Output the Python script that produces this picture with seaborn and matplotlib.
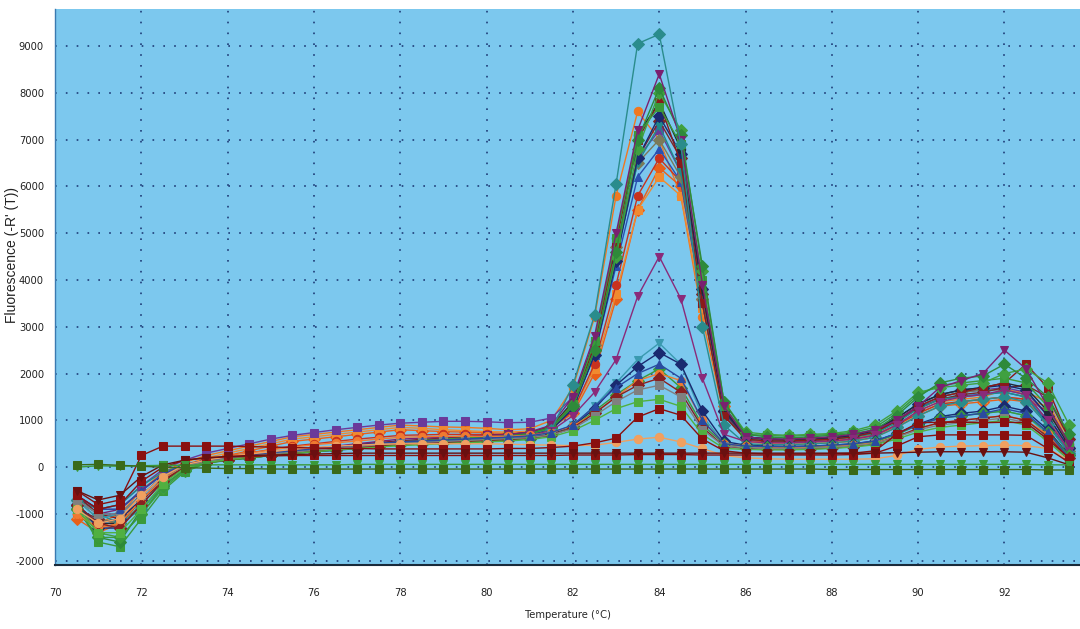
import numpy as np
import pandas as pd
import matplotlib
matplotlib.use("Agg")
import matplotlib.pyplot as plt
import seaborn as sns
from matplotlib.ticker import MultipleLocator

sns.set_style("white")
plt.rcParams['font.family'] = ['Liberation Sans Narrow', 'DejaVu Sans']
plt.rcParams['font.stretch'] = 'condensed'
plt.rcParams['axes.unicode_minus'] = False

# Temperature points (°C)
temps = [70.5 + 0.5 * k for k in range(47)]

# ---- High-peak group (main product, peak ~84 °C) ----
h01 = [-700,-1000,-900,-500,-150,50,150,200,250,300,350,400,450,500,550,600,620,640,660,680,700,750,900,1500,2800,5000,7200,8400,7000,3900,1300,650,600,600,620,650,700,800,1000,1300,1700,1850,2000,2500,2100,1300,500]
h02 = [-900,-1500,-1600,-900,-400,-50,100,150,200,250,300,350,380,420,460,500,530,560,600,640,680,720,850,1300,2500,4600,7000,8100,7100,4300,1400,700,650,620,650,680,720,800,1100,1500,1800,1900,1950,2200,1900,1500,700]
h03 = [-600,-1000,-1100,-700,-300,0,120,180,230,280,330,380,430,480,520,560,590,620,650,680,700,740,880,1350,2600,4800,7000,7800,6500,3500,1100,600,560,560,580,600,650,750,1000,1300,1500,1600,1700,1800,2200,1700,600]
h04 = [-1000,-1200,-1000,-500,-100,100,250,350,450,550,650,700,750,800,850,900,880,860,850,830,800,820,1000,1700,3200,5800,7600,7000,5800,3200,1100,600,550,550,550,580,620,700,900,1200,1400,1450,1500,1650,1600,1400,500]
h05 = [-800,-1300,-1300,-800,-300,0,100,150,200,250,300,330,360,400,450,500,520,550,580,600,640,680,800,1250,2400,4400,6600,7500,6700,3800,1200,650,600,580,600,620,680,780,1050,1350,1550,1650,1700,1750,1650,1100,400]
h06 = [-700,-900,-800,-400,-100,50,150,200,250,300,350,400,420,450,480,520,550,580,600,620,650,700,850,1300,2500,4500,6500,7300,6300,3500,1100,600,560,560,580,600,640,720,950,1250,1450,1500,1550,1600,1500,900,300]
h07 = [-1100,-1400,-1200,-700,-250,0,150,250,350,450,550,600,650,700,750,800,780,760,750,740,720,750,850,1150,2000,3600,5500,6400,6000,3600,1300,600,500,480,500,520,560,640,850,1100,1300,1350,1400,1450,1400,1000,400]
h08 = [-800,-1600,-1700,-1100,-500,-100,80,150,200,250,300,350,400,450,500,540,570,600,630,650,680,720,850,1350,2700,4900,7100,7700,6900,4000,1300,700,680,660,680,700,750,850,1150,1550,1750,1800,1850,1900,1800,1300,500]
h09 = [-900,-1100,-1000,-600,-200,50,150,200,250,300,350,400,440,480,520,560,580,600,620,650,680,720,850,1300,2500,4500,6600,7400,6600,3700,1200,600,560,550,560,600,650,740,980,1250,1450,1550,1600,1700,1750,1500,600]
h10 = [-1000,-1300,-1100,-600,-200,50,200,300,400,500,600,650,700,750,800,850,830,800,780,760,750,770,870,1200,2100,3700,5500,6200,5800,3400,1200,550,500,480,500,520,560,640,880,1150,1350,1400,1450,1500,1450,1300,650]
h11 = [-700,-1100,-1200,-800,-300,0,100,170,220,270,320,370,410,450,490,530,560,590,620,650,690,730,860,1350,2600,4700,6500,7000,6200,3600,1200,650,600,580,600,630,680,780,1000,1300,1500,1600,1650,1650,1550,1000,350]
h12 = [-900,-1200,-1200,-700,-250,20,130,190,240,290,340,390,430,470,510,550,580,610,640,670,700,740,870,1400,2700,4900,7100,7800,6800,3800,1250,650,600,590,610,640,690,800,1050,1350,1550,1650,1700,1800,1700,1200,450]
h13 = [-800,-1400,-1500,-1000,-450,-80,90,160,210,260,310,360,400,440,480,520,550,580,610,640,670,710,840,1300,2500,4500,6800,8000,7200,4200,1400,750,700,680,700,720,780,900,1200,1600,1700,1750,1800,2000,2100,1800,900]
h14 = [-1000,-1300,-1200,-700,-250,30,150,230,300,380,450,500,550,600,640,680,690,700,700,700,700,730,830,1200,2200,3900,5800,6600,6100,3700,1300,600,540,520,540,560,600,680,900,1150,1350,1400,1450,1500,1450,1200,500]
h15 = [-600,-1000,-1000,-600,-200,40,140,200,250,300,350,390,430,470,510,550,570,590,610,630,660,700,820,1250,2400,4300,6200,6800,6100,3500,1150,620,580,570,590,620,670,760,1000,1280,1450,1520,1560,1600,1500,950,300]
h16 = [-600,-900,-800,-400,-50,150,300,400,500,600,680,740,800,850,900,940,960,980,980,970,950,960,1050,1500,2700,4700,6600,7200,6300,3500,1200,650,600,590,600,620,670,760,1000,1300,1500,1600,1650,1700,1600,1100,400]
teal_top = [-700,-1000,-1200,-900,-400,-50,100,170,220,260,300,340,380,420,460,500,520,540,560,580,600,650,800,1750,3250,6050,9050,9250,6900,3000,900,500,480,480,500,520,560,640,850,1100,1300,1400,1450,1500,1400,900,300]
purple_mid = [-600,-900,-900,-500,-150,50,150,200,250,300,340,380,420,460,500,540,560,580,600,620,640,680,780,1100,1600,2300,3650,4500,3600,1900,700,550,520,520,540,560,600,680,900,1200,1400,1500,1550,1650,1550,1000,350]

# ---- Medium-peak group (peak ~1500-2600) ----
m01 = [-700,-1100,-1000,-600,-200,30,130,190,240,290,330,370,410,450,490,520,540,560,580,600,620,650,720,900,1300,1800,2300,2650,2200,1100,500,450,430,430,440,460,490,550,700,900,1050,1100,1150,1200,1100,700,200]
m02 = [-800,-1200,-1100,-700,-250,0,110,170,220,270,310,350,390,430,470,500,520,540,560,580,600,630,700,880,1250,1750,2150,2450,2200,1200,550,470,450,440,450,470,500,560,720,920,1080,1150,1200,1300,1200,800,250]
m03 = [-900,-1500,-1500,-1000,-400,-60,90,150,200,250,290,330,370,410,450,480,500,520,540,560,580,610,680,850,1200,1550,1850,2100,1700,900,500,450,430,420,430,450,480,540,700,900,1050,1100,1150,1200,1100,750,250]
m04 = [-1000,-1300,-1200,-700,-250,30,150,230,300,370,430,480,520,560,600,640,650,660,660,660,660,680,740,880,1150,1500,1850,2000,1850,1000,500,450,420,410,420,440,470,520,650,820,950,1000,1050,1100,1000,700,200]
m05 = [-800,-1200,-1300,-800,-300,0,100,160,210,260,300,340,380,420,460,490,510,530,550,570,590,620,690,840,1150,1500,1750,1900,1600,850,450,400,380,380,390,410,440,500,650,830,950,1000,1050,1100,1000,650,200]
m06 = [-700,-1000,-1000,-600,-200,20,120,180,230,280,320,360,400,440,480,510,530,550,570,590,610,630,690,820,1100,1400,1650,1750,1500,800,450,420,400,400,410,430,460,510,640,800,900,950,1000,1050,950,600,150]
m07 = [-900,-1400,-1400,-900,-350,-20,100,160,210,250,290,330,370,400,430,460,480,500,520,540,560,590,650,780,1000,1250,1400,1450,1300,700,400,380,370,370,380,400,430,480,600,750,850,900,950,1000,900,550,150]
m08 = [-600,-900,-900,-500,-150,50,150,210,260,310,350,390,430,470,510,540,560,580,600,620,640,670,740,900,1300,1700,2000,2200,1900,1000,500,450,440,440,450,470,500,560,720,900,1050,1100,1150,1250,1150,750,200]

# ---- Low / flat group ----
l01 = [-500,-800,-700,250,450,450,450,450,440,430,420,410,400,400,390,390,390,390,390,390,400,400,420,450,520,620,1070,1250,1110,600,350,300,280,280,280,290,300,350,700,950,960,960,950,960,950,600,200]
l02 = [-600,-900,-800,-300,0,150,200,220,230,240,250,250,250,250,250,250,250,250,250,250,250,250,250,260,260,260,270,270,270,260,260,260,260,260,260,260,270,300,450,650,690,690,690,690,680,400,100]
l03 = [-500,-700,-600,-200,50,150,200,230,250,260,270,280,290,300,300,300,300,300,300,300,300,300,300,300,300,300,300,300,300,300,300,300,300,300,300,300,300,300,310,320,330,330,330,330,320,200,50]
l04 = [-900,-1200,-1100,-600,-200,50,150,220,280,330,380,420,450,470,490,500,500,500,500,500,490,480,470,460,470,530,600,640,540,400,250,200,180,170,170,170,170,180,250,380,430,450,460,470,460,400,150]
l05 = [0,30,20,30,40,40,50,50,50,50,50,50,50,60,60,60,60,60,60,60,60,60,60,60,60,60,60,60,60,60,60,60,60,60,60,60,60,60,60,60,60,60,60,60,60,50,50]
l06 = [50,60,40,20,0,-10,-20,-30,-30,-40,-40,-40,-40,-40,-40,-40,-40,-40,-40,-40,-40,-40,-40,-40,-40,-40,-40,-40,-40,-40,-40,-40,-40,-40,-40,-50,-50,-50,-50,-50,-50,-50,-50,-50,-50,-60,-60]

series = [
    (h04, '#f07820', 'o'), (h07, '#e8601a', 'D'), (h10, '#f08a30', 's'), (h14, '#c8321e', 'o'),
    (h16, '#6a3a9a', 's'), (h15, '#2a50b0', '^'), (h11, '#7a7a5a', 'D'), (h09, '#7a2828', 'D'),
    (h06, '#1e8a8a', 'v'), (h05, '#1a2a70', 'D'), (h12, '#202838', 'o'), (h03, '#8a1a1a', 's'),
    (h08, '#3a9a3a', 's'), (h13, '#40a040', 'D'), (h02, '#2e8a3a', 'D'), (h01, '#7a2070', 'v'),
    (teal_top, '#2a8c8c', 'D'), (purple_mid, '#8a2a7a', 'v'),
    (m01, '#3a9ab0', 'v'), (m02, '#1a2a70', 'D'), (m03, '#3a9a3a', 'D'), (m04, '#f07a30', 'o'),
    (m05, '#8a2020', 'D'), (m06, '#808080', 's'), (m07, '#50b040', 's'), (m08, '#2a4aa0', '^'),
    (l04, '#f0a060', 'o'), (l01, '#8a1010', 's'), (l02, '#8a1010', 's'), (l03, '#6a1010', 'v'),
    (l05, '#3a9a3a', 'v'), (l06, '#3a6a1a', 's'),
]

fig = plt.figure(figsize=(10.8, 6.29), dpi=100)
ax = fig.add_axes([0.051, 0.101, 0.949, 0.884])
ax.set_facecolor('#7cc8ee')

for vals, col, mk in series:
    sns.lineplot(x=temps, y=vals, color=col, marker=mk, markersize=6,
                 markeredgecolor=col, linewidth=1.0, ax=ax, legend=False)

ax.set_xlim(70, 93.75)
ax.set_ylim(-2100, 9780)
ax.xaxis.set_major_locator(MultipleLocator(2))
ax.xaxis.set_minor_locator(MultipleLocator(1))
ax.yaxis.set_major_locator(MultipleLocator(1000))
ax.yaxis.set_minor_locator(MultipleLocator(500))
ax.grid(True, which='major', color='#1e3c78', linestyle=(0, (1, 5.5)), linewidth=1.2)
ax.set_axisbelow(True)

for s in ['top', 'right']:
    ax.spines[s].set_visible(False)
ax.spines['bottom'].set_color('#1a2a3a')
ax.spines['bottom'].set_linewidth(1.5)
ax.spines['left'].set_color('#3a7ab0')
ax.spines['left'].set_linewidth(1.0)

ax.tick_params(axis='both', which='both', direction='out', colors='#222222')
ax.tick_params(axis='y', which='major', length=6, width=1.2, labelsize=8, pad=2)
ax.tick_params(axis='y', which='minor', length=6, width=1.2)
ax.tick_params(axis='x', which='major', length=6, width=1.0, labelsize=8, pad=10)
ax.tick_params(axis='x', which='minor', length=6, width=1.0)

ax.set_xlabel('Temperature (°C)', fontsize=8, labelpad=9)
fig.text(0.011, 0.595, "Fluorescence (-R' (T))", rotation=90, fontsize=10,
         ha='center', va='center', family=['Liberation Sans', 'DejaVu Sans'],
         fontstretch='normal', color='#222222')

fig.savefig('out.png', dpi=100, facecolor='white')
